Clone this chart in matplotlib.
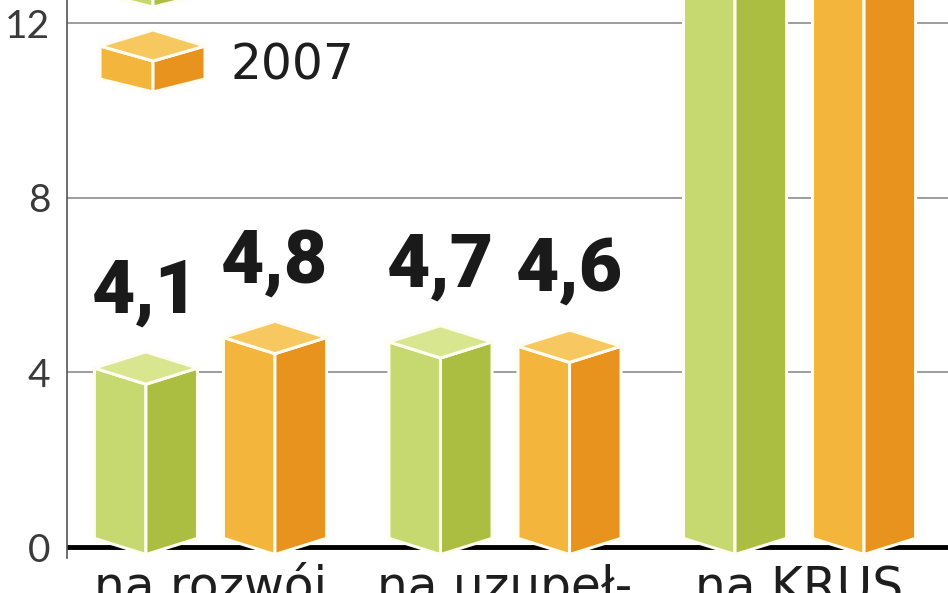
import matplotlib
matplotlib.use("Agg")
import matplotlib.pyplot as plt
from matplotlib.patches import Polygon
from matplotlib.transforms import IdentityTransform

categories = ["na rozwój", "na uzupeł-", "na KRUS"]
years = ["2006", "2007"]
values_2006 = [4.1, 4.7, 15.1]
values_2007 = [4.8, 4.6, 15.6]
yticks = [0, 4, 8, 12]

green = {"left": "#c6d970", "right": "#abbe42", "top": "#d8e690"}
orange = {"left": "#f4b53d", "right": "#e9931f", "top": "#f8c860"}

W, H = 948, 593
fig = plt.figure(figsize=(W / 100, H / 100), dpi=100)
ax = fig.add_axes([67 / W, 35 / H, 881 / W, 558 / H])
ax.set_xlim(-0.487, 2.504)
ax.set_ylim(-0.25, 12.53)

bar_w = 0.35
offset = 0.219
depth = 0.37   # half height of the diamond-shaped top face
base = 0.2


def prism(xc, v, col):
    x0, x1 = xc - bar_w / 2, xc + bar_w / 2
    faces = [
        ([(x0, v), (xc, v - depth), (xc, base - depth), (x0, base)], col["left"]),
        ([(xc, v - depth), (x1, v), (x1, base), (xc, base - depth)], col["right"]),
        ([(x0, v), (xc, v + depth), (x1, v), (xc, v - depth)], col["top"]),
    ]
    for pts, c in faces:
        ax.add_patch(Polygon(pts, closed=True, fc=c, ec="#fffdf2", lw=2.2,
                             joinstyle="miter", zorder=3))


ymax = ax.get_ylim()[1]
for i, cat in enumerate(categories):
    for v, col, dx in [(values_2006[i], green, -offset), (values_2007[i], orange, offset)]:
        prism(i + dx, v, col)
        if v + 1.27 < ymax:
            ax.text(i + dx, v + 1.27, f"{v:.1f}".replace(".", ","), ha="center",
                    va="baseline", fontsize=54, fontweight="black",
                    family="Roboto", color="#1a1a1a", zorder=4)
    ax.text(i, -1.26, cat, ha="center", va="baseline", fontsize=35,
            color="#1e1e1e", clip_on=False)

ax.axhline(0, color="black", lw=3.5, zorder=2)
ax.set_axisbelow(True)
ax.yaxis.grid(True, color="#8c8c8c", lw=1.2)
ax.set_yticks(yticks)
ax.set_yticklabels([str(t) for t in yticks], family="Lato", fontweight="normal")
ax.tick_params(axis="y", length=0, pad=12, labelsize=28, labelcolor="#3a3a3a")
ax.set_xticks([])
for s in ["top", "right", "bottom"]:
    ax.spines[s].set_visible(False)
ax.spines["left"].set_color("#555555")
ax.spines["left"].set_linewidth(1.2)

# legend boxes, drawn in pixel coordinates from the top-left corner
def legend_box(dy, col):
    def p(x, y):
        return (x, H - (y + dy))
    faces = [
        ([p(100, 46), p(153, 61), p(153, 92), p(100, 79)], col["left"]),
        ([p(153, 61), p(205, 46), p(205, 79), p(153, 92)], col["right"]),
        ([p(100, 46), p(153, 30), p(205, 46), p(153, 61)], col["top"]),
    ]
    for pts, c in faces:
        fig.add_artist(Polygon(pts, closed=True, fc=c, ec="#fffdf2", lw=2.2,
                               joinstyle="miter", transform=IdentityTransform()))


for k, (year, col) in enumerate(zip(years, [green, orange])):
    dy = (k - 1) * 85
    legend_box(dy, col)
    fig.text(230 / W, 1 - (80 + dy) / H, year, fontsize=35, va="baseline",
             ha="left", color="#1e1e1e")

fig.savefig("out.png", dpi=100)
